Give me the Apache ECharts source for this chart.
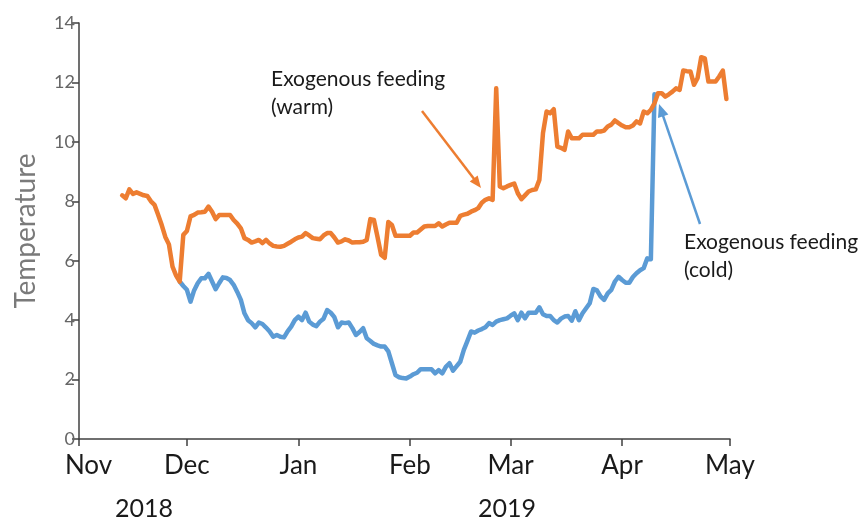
<!DOCTYPE html>
<html>
<head>
<meta charset="utf-8">
<script src="https://cdn.jsdelivr.net/npm/echarts@6/dist/echarts.min.js"></script>
<style>
html,body{margin:0;padding:0;background:#fff;}
#c{width:867px;height:522px;}
</style>
</head>
<body>
<div id="c"></div>
<script>
// ---- data (daily mean temperature) ----
const warmStart = [2018, 10, 13];   // 13 Nov 2018
const warmTemps = [
  8.2, 8.1, 8.4, 8.25, 8.3, 8.25, 8.2, 8.18, 8.0, 7.88,
  7.55, 7.2, 6.8, 6.55, 5.8, 5.5, 5.3, 6.87, 7.0, 7.49,
  7.54, 7.62, 7.63, 7.65, 7.82, 7.65, 7.4, 7.54, 7.54, 7.54,
  7.54, 7.37, 7.25, 7.09, 6.76, 6.7, 6.61, 6.65, 6.7, 6.59,
  6.7, 6.58, 6.5, 6.48, 6.47, 6.5, 6.57, 6.64, 6.72, 6.78,
  6.81, 6.93, 6.85, 6.76, 6.74, 6.72, 6.85, 6.93, 6.93, 6.78,
  6.61, 6.65, 6.72, 6.68, 6.61, 6.62, 6.62, 6.64, 6.7, 7.4,
  7.37, 6.8, 6.2, 6.1, 7.3, 7.2, 6.84, 6.84, 6.84, 6.84,
  6.84, 6.95, 6.95, 7.05, 7.15, 7.17, 7.17, 7.17, 7.26, 7.15,
  7.22, 7.28, 7.28, 7.28, 7.51, 7.55, 7.58, 7.65, 7.7, 7.77,
  7.95, 8.05, 8.1, 8.05, 11.8, 8.5, 8.44, 8.5, 8.55, 8.6,
  8.27, 8.07, 8.2, 8.33, 8.38, 8.4, 8.72, 10.29, 11.02, 10.96,
  11.1, 9.84, 9.8, 9.73, 10.35, 10.12, 10.12, 10.12, 10.24, 10.24,
  10.24, 10.24, 10.35, 10.35, 10.38, 10.52, 10.58, 10.72, 10.63, 10.55,
  10.49, 10.49, 10.55, 10.69, 10.62, 11.02, 10.96, 11.08, 11.3, 11.64,
  11.64, 11.52, 11.6, 11.69, 11.8, 11.75, 12.4, 12.38, 12.37, 11.92,
  12.15, 12.85, 12.81, 12.03, 12.03, 12.03, 12.2, 12.4, 11.44
];
const coldStart = [2018, 10, 29];   // 29 Nov 2018
const coldTemps = [
  5.3, 5.15, 5.02, 4.62, 5.0, 5.24, 5.41, 5.41, 5.56, 5.3,
  5.04, 5.25, 5.44, 5.42, 5.35, 5.19, 4.95, 4.68, 4.23, 4.0,
  3.9, 3.76, 3.92, 3.87, 3.75, 3.62, 3.44, 3.5, 3.44, 3.42,
  3.62, 3.78, 4.0, 4.12, 4.0, 4.25, 3.95, 3.85, 3.8, 3.95,
  4.05, 4.34, 4.25, 4.1, 3.76, 3.92, 3.9, 3.92, 3.73, 3.5,
  3.6, 3.73, 3.39, 3.3, 3.2, 3.15, 3.11, 3.11, 2.95, 2.55,
  2.15, 2.08, 2.05, 2.04, 2.1, 2.18, 2.23, 2.35, 2.35, 2.35,
  2.35, 2.21, 2.32, 2.21, 2.43, 2.55, 2.3, 2.45, 2.6, 3.0,
  3.3, 3.62, 3.58, 3.65, 3.7, 3.76, 3.9, 3.84, 3.95, 4.0,
  4.03, 4.06, 4.15, 4.23, 4.0, 4.25, 4.06, 4.25, 4.25, 4.25,
  4.43, 4.2, 4.14, 4.14, 4.0, 3.92, 4.05, 4.12, 4.14, 3.98,
  4.3, 4.0, 4.23, 4.4, 4.57, 5.05, 5.0, 4.8, 4.68, 4.9,
  5.02, 5.3, 5.46, 5.35, 5.26, 5.26, 5.45, 5.58, 5.68, 5.75,
  6.08, 6.05, 11.6
];
const monthLabels = ['Jan','Feb','Mar','Apr','May','Jun','Jul','Aug','Sep','Oct','Nov','Dec'];
const yearLabels = ['2018', '2019'];
const yTicks = {min: 0, max: 14, interval: 2};
const axisStart = [2018, 10, 1];
const axisEnd = [2019, 4, 1];
const warmNote = ['Exogenous feeding', '(warm)'];
const coldNote = ['Exogenous feeding', '(cold)'];

// ---- build ----
function daily(start, vals) {
  return vals.map((v, i) => [new Date(start[0], start[1], start[2] + i).getTime(), v]);
}
const ORANGE = '#ED7D31', BLUE = '#5B9BD5';
const FONT = 'Lato';

function arrow(x1, y1, x2, y2, color, w, L, W) {
  const a = Math.atan2(y2 - y1, x2 - x1);
  const c = Math.cos(a), s = Math.sin(a);
  const bx = x2 - L * c, by = y2 - L * s;
  const px = -s * W, py = c * W;
  return [
    {type: 'line', shape: {x1: x1, y1: y1, x2: bx + c, y2: by + s}, style: {stroke: color, lineWidth: w}, z: 100},
    {type: 'polygon', shape: {points: [[x2, y2], [bx + px, by + py], [bx - px, by - py]]}, style: {fill: color}, z: 100}
  ];
}

const minTime = new Date(axisStart[0], axisStart[1], axisStart[2]).getTime();
const chart = echarts.init(document.getElementById('c'), null, {renderer: 'canvas'});
const DAY = 86400000;
chart.setOption({
  backgroundColor: '#fff',
  animation: false,
  grid: {left: 79, right: 137, top: 23, bottom: 83, containLabel: false},
  xAxis: {
    type: 'time',
    min: minTime,
    max: new Date(axisEnd[0], axisEnd[1], axisEnd[2]).getTime(),
    minInterval: 28 * DAY,
    maxInterval: 31 * DAY,
    splitNumber: 6,
    axisLine: {show: true, lineStyle: {color: '#404040', width: 1.5}},
    axisTick: {show: true, length: 7, lineStyle: {color: '#404040', width: 1.5}},
    splitLine: {show: false},
    axisLabel: {
      showMinLabel: true, showMaxLabel: true,
      margin: 14,
      fontFamily: FONT, fontSize: 26, color: '#1a1a1a',
      formatter: v => {
        const m = monthLabels[new Date(v).getMonth()];
        return v <= minTime ? '{first|' + m + '}' : m;
      },
      rich: {first: {fontFamily: FONT, fontSize: 26, color: '#1a1a1a', padding: [0, 0, 0, 19]}}
    }
  },
  yAxis: {
    type: 'value',
    min: yTicks.min, max: yTicks.max, interval: yTicks.interval,
    name: 'Temperature',
    nameLocation: 'middle',
    nameGap: 39,
    nameTextStyle: {fontFamily: FONT, fontSize: 28, color: '#7a7a7a'},
    axisLine: {show: true, lineStyle: {color: '#404040', width: 1.5}},
    axisTick: {show: true, length: 7, lineStyle: {color: '#404040', width: 1.5}},
    splitLine: {show: false},
    axisLabel: {margin: 4, fontFamily: FONT, fontSize: 18, color: '#666666'}
  },
  series: [
    {
      name: 'cold', type: 'line', data: daily(coldStart, coldTemps),
      showSymbol: false, symbol: 'none',
      lineStyle: {color: BLUE, width: 4.5, join: 'round', cap: 'round'},
      z: 2
    },
    {
      name: 'warm', type: 'line', data: daily(warmStart, warmTemps),
      showSymbol: false, symbol: 'none',
      lineStyle: {color: ORANGE, width: 4.5, join: 'round', cap: 'round'},
      z: 3
    }
  ],
  graphic: [
    {type: 'text', style: {text: yearLabels[0], font: '25px ' + FONT, fill: '#1a1a1a', textAlign: 'center', textVerticalAlign: 'middle'}, x: 144, y: 509},
    {type: 'text', style: {text: yearLabels[1], font: '25px ' + FONT, fill: '#1a1a1a', textAlign: 'center', textVerticalAlign: 'middle'}, x: 507, y: 509},
    {type: 'text', style: {text: warmNote.join('\n'), font: '21px ' + FONT, fill: '#1a1a1a', lineHeight: 28, textAlign: 'left', textVerticalAlign: 'top'}, x: 271, y: 65},
    {type: 'text', style: {text: coldNote.join('\n'), font: '21px ' + FONT, fill: '#1a1a1a', lineHeight: 28, textAlign: 'left', textVerticalAlign: 'top'}, x: 684, y: 228},
    ...arrow(422, 111, 481, 188, ORANGE, 2.5, 12, 5),
    ...arrow(700, 224, 659, 104, BLUE, 2.5, 13, 5.5)
  ]
});
</script>
</body>
</html>
